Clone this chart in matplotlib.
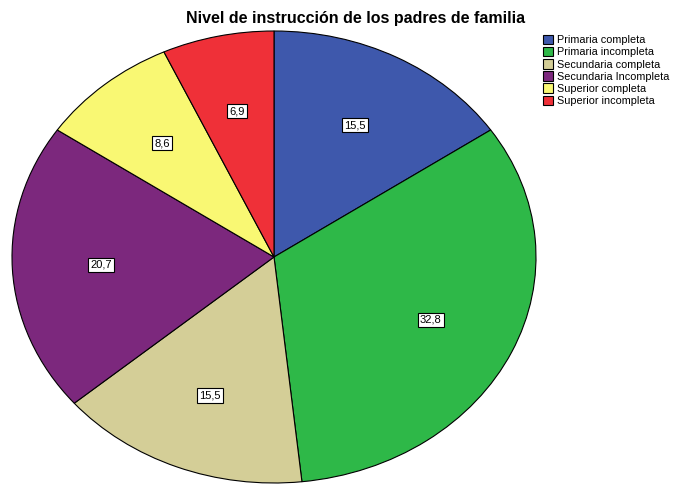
import matplotlib.pyplot as plt

plt.rcParams['font.family'] = ['Liberation Sans', 'DejaVu Sans']

categorias = ['Primaria completa', 'Primaria incompleta', 'Secundaria completa',
              'Secundaria Incompleta', 'Superior completa', 'Superior incompleta']
porcentajes = [15.5, 32.8, 15.5, 20.7, 8.6, 6.9]
colores = ['#3E58AC', '#2EB848', '#D4CE97', '#7C287D', '#F9F873', '#EF3038']

fig = plt.figure(figsize=(6.79, 4.84), dpi=100)
ax = fig.add_axes([12 / 679, 1 / 484, 524 / 679, 452 / 484])

wedges, textos, pcts = ax.pie(
    porcentajes, colors=colores, startangle=90, counterclock=False,
    autopct=lambda p: f'{p:.1f}'.replace('.', ','), pctdistance=0.66,
    wedgeprops=dict(edgecolor='black', linewidth=0.8))
ax.set_aspect('auto')
ax.set_xlim(-1, 1)
ax.set_ylim(-1, 1)

for t in pcts:
    t.set_fontsize(8)
    t.set_bbox(dict(facecolor='white', edgecolor='black', linewidth=0.8, pad=1.5))

fig.text(0.523, 0.962, 'Nivel de instrucción de los padres de familia',
         ha='center', va='center', fontsize=11.5, fontweight='bold')

ley = fig.legend(wedges, categorias, loc='upper left', bbox_to_anchor=(535 / 679, 1 - 27 / 484),
                 fontsize=7.8, frameon=False, handlelength=1.0, handleheight=1.0,
                 handletextpad=0.3, labelspacing=0.15, borderpad=0.2)

fig.savefig('out.png', dpi=100)
